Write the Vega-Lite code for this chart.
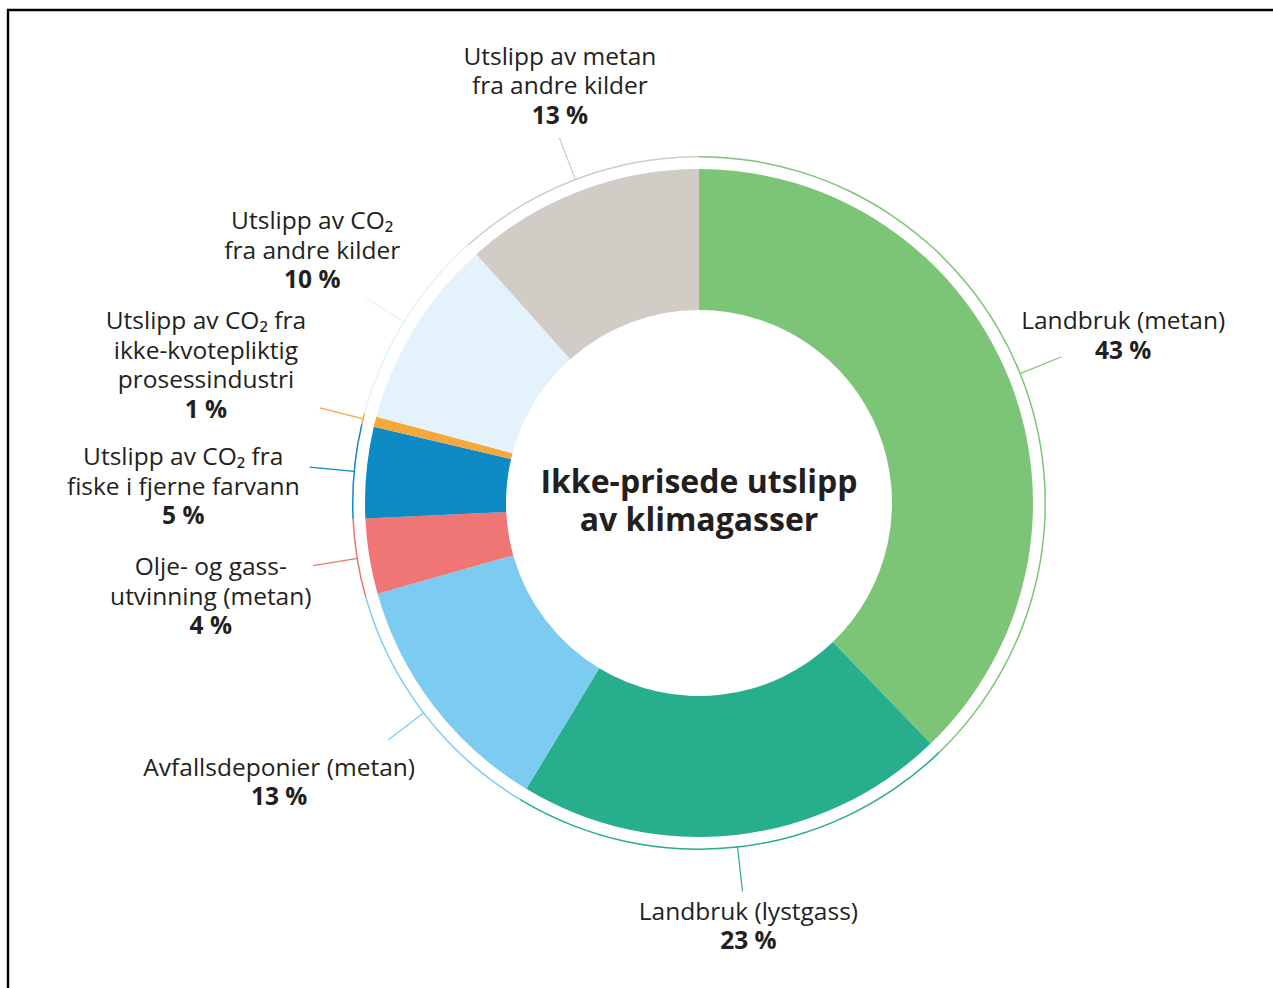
{
  "$schema": "https://vega.github.io/schema/vega-lite/v6.json",
  "width": 1382,
  "height": 986,
  "autosize": {"type": "none"},
  "padding": {"left": 8, "top": 10, "right": -117, "bottom": -8},
  "background": "white",
  "config": {"view": {"stroke": null}, "font": "Open Sans"},
  "datasets": {
    "kilder": [
      {"i": 1, "kilde": "Landbruk (metan)", "andel": 37.8, "navn": "Landbruk (metan)", "prosent": "43 %"},
      {"i": 2, "kilde": "Landbruk (lystgass)", "andel": 20.85, "navn": "Landbruk (lystgass)", "prosent": "23 %"},
      {"i": 3, "kilde": "Avfallsdeponier (metan)", "andel": 11.97, "navn": "Avfallsdeponier (metan)", "prosent": "13 %"},
      {"i": 4, "kilde": "Olje- og gassutvinning (metan)", "andel": 3.64, "navn": "Olje- og gass-\nutvinning (metan)", "prosent": "4 %"},
      {"i": 5, "kilde": "CO2 fiske i fjerne farvann", "andel": 4.4, "navn": "Utslipp av CO₂ fra\nfiske i fjerne farvann", "prosent": "5 %"},
      {"i": 6, "kilde": "CO2 ikke-kvotepliktig prosessindustri", "andel": 0.5, "navn": "Utslipp av CO₂ fra\nikke-kvotepliktig\nprosessindustri", "prosent": "1 %"},
      {"i": 7, "kilde": "CO2 andre kilder", "andel": 9.22, "navn": "Utslipp av CO₂\nfra andre kilder", "prosent": "10 %"},
      {"i": 8, "kilde": "Metan andre kilder", "andel": 11.62, "navn": "Utslipp av metan\nfra andre kilder", "prosent": "13 %"}
    ]
  },
  "resolve": {"scale": {"theta": "independent"}},
  "layer": [
    {
      "data": {"name": "kilder"},
      "mark": {"type": "arc", "innerRadius": 193, "outerRadius": 334},
      "encoding": {
        "theta": {"field": "andel", "type": "quantitative", "stack": true},
        "order": {"field": "i", "type": "quantitative"},
        "color": {
          "field": "kilde", "type": "nominal", "legend": null,
          "scale": {
            "domain": ["Landbruk (metan)", "Landbruk (lystgass)", "Avfallsdeponier (metan)", "Olje- og gassutvinning (metan)", "CO2 fiske i fjerne farvann", "CO2 ikke-kvotepliktig prosessindustri", "CO2 andre kilder", "Metan andre kilder"],
            "range": ["#7DC576", "#27AE8C", "#7CCBF1", "#F07575", "#0D89C4", "#F5A83C", "#E3F2FB", "#D1CCC6"]
          }
        }
      }
    },
    {
      "data": {"name": "kilder"},
      "mark": {"type": "arc", "innerRadius": 345.5, "outerRadius": 347},
      "encoding": {
        "theta": {"field": "andel", "type": "quantitative", "stack": true},
        "order": {"field": "i", "type": "quantitative"},
        "color": {"field": "kilde", "type": "nominal", "legend": null}
      }
    },
    {
      "data": {"name": "kilder"},
      "mark": {"type": "arc", "innerRadius": 346, "outerRadius": 391, "padAngle": 3.1, "filled": false, "strokeWidth": 1.2},
      "encoding": {
        "theta": {"field": "andel", "type": "quantitative", "stack": true},
        "order": {"field": "i", "type": "quantitative"},
        "color": {"field": "kilde", "type": "nominal", "legend": null}
      }
    },
    {
      "data": {"name": "kilder"},
      "mark": {"type": "text", "font": "Open Sans", "fontSize": 24.5, "color": "#231F20", "align": "center", "baseline": "middle", "lineHeight": 29.5, "lineBreak": "\n",
        "dy": {"expr": "1.5 - length(split(datum.navn, '\\n')) * 14.75"}},
      "encoding": {
        "theta": {
          "field": "andel", "type": "quantitative", "stack": true,
          "scale": {"type": "linear", "zero": false, "nice": false,
            "domain": [0, 18.9, 48.225, 64.635, 72.44, 76.46, 78.91, 83.77, 94.19, 100],
            "range": [0, 1.19506, 3.02536, 4.12617, 4.52389, 4.74443, 4.98508, 5.29107, 5.96149, 6.28319]}
        },
        "order": {"field": "i", "type": "quantitative"},
        "detail": {"field": "kilde", "type": "nominal"},
        "radius": {
          "field": "andel", "type": "quantitative",
          "scale": {"type": "linear", "zero": false, "nice": false, "domain": [0.5, 3.64, 4.4, 9.22, 11.62, 11.97, 20.85, 37.8], "range": [512, 497, 516, 462, 440, 504, 426, 456]}
        },
        "text": {"field": "navn", "type": "nominal"}
      }
    },
    {
      "data": {"name": "kilder"},
      "mark": {"type": "text", "font": "Open Sans", "fontSize": 24.5, "fontWeight": "bold", "color": "#231F20", "align": "center", "baseline": "middle", "lineHeight": 29.5,
        "dy": {"expr": "1.5 + length(split(datum.navn, '\\n')) * 14.75"}},
      "encoding": {
        "theta": {
          "field": "andel", "type": "quantitative", "stack": true,
          "scale": {"type": "linear", "zero": false, "nice": false,
            "domain": [0, 18.9, 48.225, 64.635, 72.44, 76.46, 78.91, 83.77, 94.19, 100],
            "range": [0, 1.19506, 3.02536, 4.12617, 4.52389, 4.74443, 4.98508, 5.29107, 5.96149, 6.28319]}
        },
        "order": {"field": "i", "type": "quantitative"},
        "detail": {"field": "kilde", "type": "nominal"},
        "radius": {"field": "andel", "type": "quantitative"},
        "text": {"field": "prosent", "type": "nominal"}
      }
    },
    {
      "data": {"values": [{"tittel": "Ikke-prisede utslipp\nav klimagasser"}]},
      "mark": {"type": "text", "font": "Open Sans", "fontSize": 32, "fontWeight": "bold", "color": "#231F20", "align": "center", "baseline": "middle", "lineHeight": 38, "lineBreak": "\n", "dy": -20},
      "encoding": {"text": {"field": "tittel", "type": "nominal"}}
    },
    {
      "data": {"values": [{"ramme": "ramme"}]},
      "mark": {"type": "rect", "filled": false, "stroke": "#000000", "strokeWidth": 2.4},
      "encoding": {}
    }
  ]
}
